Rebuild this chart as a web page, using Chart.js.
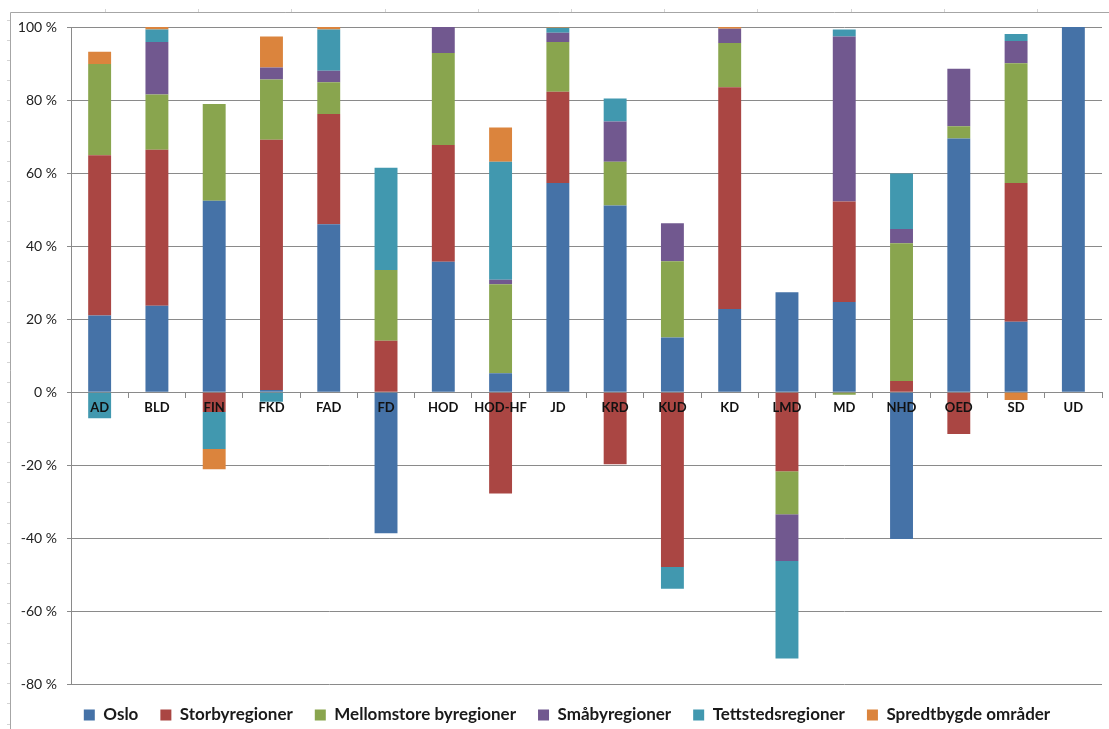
<!DOCTYPE html>
<html lang="no">
<head>
<meta charset="utf-8">
<title>Fordeling per departement</title>
<script src="https://cdn.jsdelivr.net/npm/chart.js@4/dist/chart.umd.min.js"></script>
<style>
  html, body { margin: 0; padding: 0; background: #ffffff; }
  #wrap { width: 1109px; height: 729px; }
</style>
</head>
<body>
<div id="wrap"><canvas id="c" width="1109" height="729"></canvas></div>
<script>
// Departementer
const categories = ['AD', 'BLD', 'FIN', 'FKD', 'FAD', 'FD', 'HOD', 'HOD-HF', 'JD', 'KRD',
                    'KUD', 'KD', 'LMD', 'MD', 'NHD', 'OED', 'SD', 'UD'];

// Andel (prosent) per regiontype
const oslo        = [21.0, 23.7, 52.4,  0.6, 46.0, -38.6, 35.7,   5.2, 57.3, 51.1,  15.0, 22.8,  27.4, 24.7, -40.2, 69.5, 19.3, 100];
const storby      = [43.9, 42.7, -5.4, 68.5, 30.2,  14.1, 32.0, -27.7, 25.0, -19.7, -47.8, 60.7, -21.6, 27.5,   3.1, -11.4, 38.0, 0];
const mellomstore = [25.0, 15.1, 26.5, 16.5,  8.7,  19.4, 25.2,  24.4, 13.6, 12.0,  20.9, 12.1, -11.8, -0.7,  37.7,  3.3, 32.8, 0];
const smaaby      = [ 0.0, 14.4,  0.0,  3.3,  3.1,   0.0,  7.1,   1.2,  2.5, 11.0,  10.4,  3.9, -12.8, 45.2,   3.9, 15.8,  6.1, 0];
const tettsted    = [-7.1,  3.4, -10.1, -2.6, 11.3,  28.0,  0.0,  32.3,  1.4,  6.3,  -6.0,  0.0, -26.7,  1.9,  15.2,  0.0,  1.9, 0];
const spredtbygd  = [ 3.3,  0.7, -5.6,  8.5,  0.7,   0.0,  0.0,   9.4,  0.2,  0.0,   0.0,  0.5,   0.0,  0.0,   0.0,  0.0, -2.1, 0];

// Akse
const yTicks = [-80, -60, -40, -20, 0, 20, 40, 60, 80, 100];

const seriesNames = ['Oslo', 'Storbyregioner', 'Mellomstore byregioner', 'Småbyregioner',
                     'Tettstedsregioner', 'Spredtbygde områder'];
const seriesData = [oslo, storby, mellomstore, smaaby, tettsted, spredtbygd];
const seriesColors = ['#4572A7', '#AA4643', '#89A54E', '#71588F', '#4198AF', '#DB843D'];

const gridGray = '#8a8a8a';
const FONT = 'Lato, "Open Sans", "Liberation Sans", sans-serif';

// Thin sheet frame with ruler ticks around the chart
const framePlugin = {
  id: 'sheetFrame',
  beforeDraw(chart) {
    const ctx = chart.ctx;
    ctx.save();
    ctx.fillStyle = '#ffffff';
    ctx.fillRect(0, 0, chart.width, chart.height);
    ctx.strokeStyle = '#a6a6a6';
    ctx.lineWidth = 1;
    ctx.beginPath();
    ctx.moveTo(10.5, 12.5);
    ctx.lineTo(chart.width, 12.5);
    ctx.moveTo(10.5, 12.5);
    ctx.lineTo(10.5, chart.height);
    ctx.stroke();
    ctx.strokeStyle = '#d4d4d4';
    ctx.beginPath();
    for (let x = 105; x < chart.width; x += 93.2) {
      ctx.moveTo(Math.round(x) + 0.5, 9);
      ctx.lineTo(Math.round(x) + 0.5, 12);
    }
    for (let y = 20; y < chart.height; y += 20.1) {
      ctx.moveTo(7, Math.round(y) + 0.5);
      ctx.lineTo(10, Math.round(y) + 0.5);
    }
    ctx.stroke();
    ctx.restore();
  }
};

// Nudge the legend row sideways
const legendShift = {
  id: 'legendShift',
  afterLayout(chart) {
    const d = 11;
    if (chart.legend) {
      chart.legend.left += d;
      chart.legend.right += d;
    }
  }
};

new Chart(document.getElementById('c'), {
  type: 'bar',
  data: {
    labels: categories,
    datasets: seriesNames.map((name, i) => ({
      label: name,
      data: seriesData[i],
      backgroundColor: seriesColors[i],
      borderWidth: 0,
      barPercentage: 0.4,
      categoryPercentage: 1.0,
      stack: 'andel'
    }))
  },
  options: {
    responsive: false,
    animation: false,
    layout: { padding: { left: 10, right: 7, top: 27, bottom: -4.5 } },
    plugins: {
      title: { display: false },
      tooltip: { enabled: false },
      legend: {
        position: 'bottom',
        align: 'center',
        labels: {
          boxWidth: 11,
          boxHeight: 11,
          padding: 22,
          color: '#1a1a1a',
          font: { family: FONT, size: 17, weight: 'bold' }
        }
      }
    },
    scales: {
      x: {
        stacked: true,
        position: { y: 0 },
        afterFit(scale) { scale.height = 0; },
        grid: {
          display: true,
          drawOnChartArea: false,
          drawTicks: true,
          tickLength: 5,
          color: gridGray,
          offset: true
        },
        border: { display: true, color: gridGray, width: 1 },
        ticks: {
          z: 1,
          color: '#111111',
          padding: 3,
          maxRotation: 0,
          autoSkip: false,
          font: { family: FONT, size: 13, weight: 'bold' }
        }
      },
      y: {
        stacked: true,
        min: -80,
        max: 100,
        afterFit(scale) { scale.width = 61; },
        afterBuildTicks(scale) { scale.ticks = yTicks.map(v => ({ value: v })); },
        grid: {
          color: gridGray,
          lineWidth: 1,
          drawTicks: true,
          tickLength: 4
        },
        border: { display: true, color: gridGray, width: 1 },
        ticks: {
          color: '#222222',
          padding: 10,
          font: { family: FONT, size: 14 },
          callback: (v) => v + ' %'
        }
      }
    }
  },
  plugins: [framePlugin, legendShift]
});
</script>
</body>
</html>
